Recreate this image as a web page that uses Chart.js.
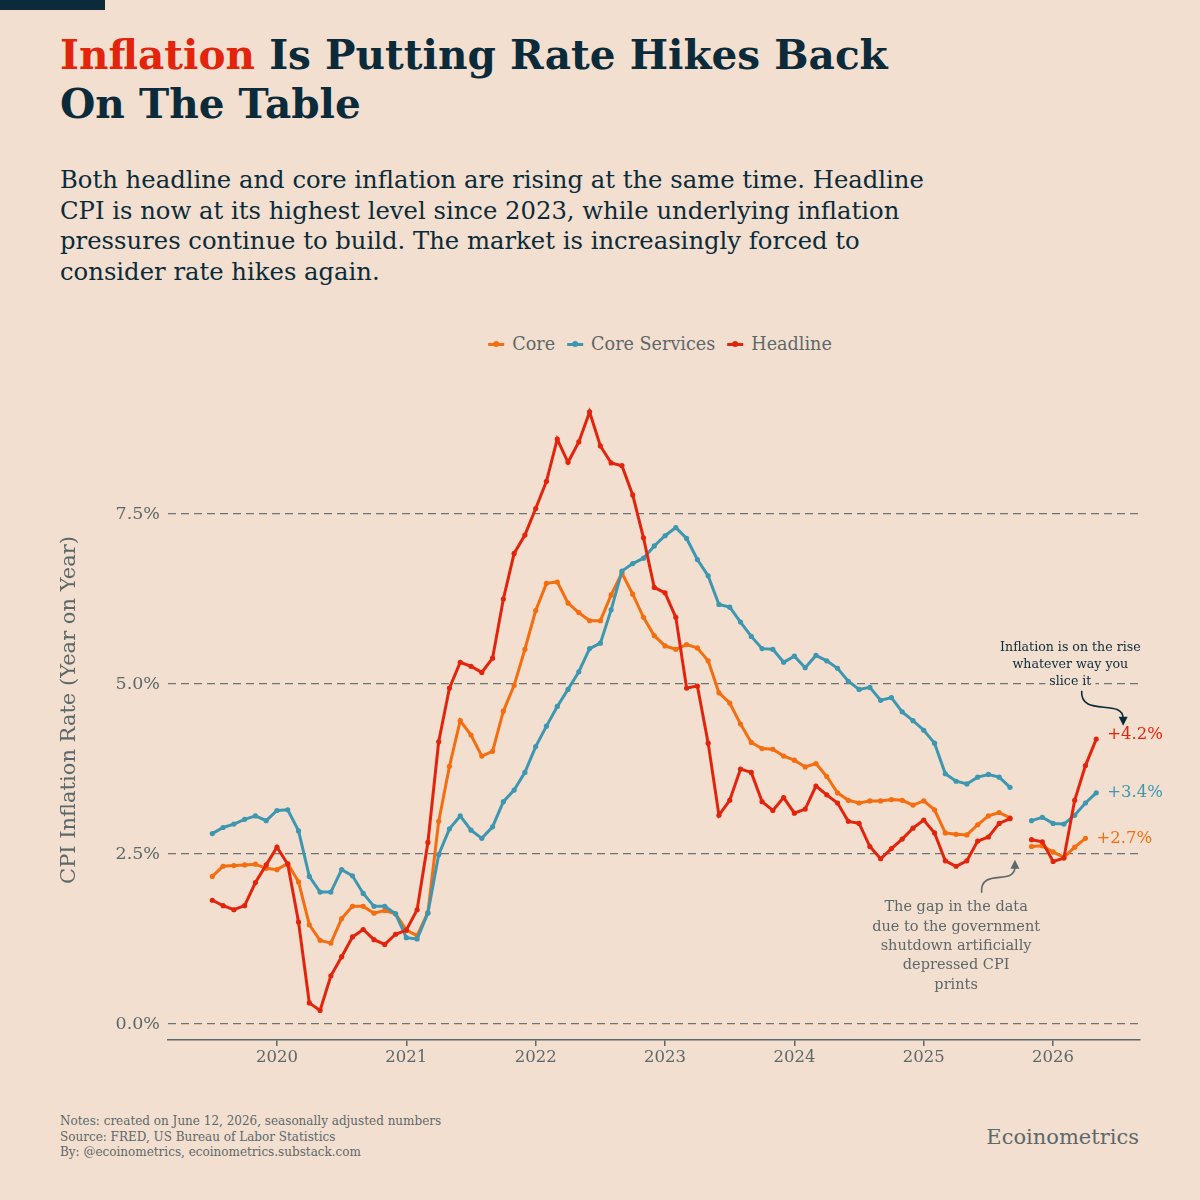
<!DOCTYPE html>
<html lang="en">
<head>
<meta charset="utf-8">
<title>Inflation Is Putting Rate Hikes Back On The Table</title>
<script src="https://cdn.jsdelivr.net/npm/chart.js@4.4.1/dist/chart.umd.min.js"></script>
<style>
  body { margin: 0; background: #f2dfcf; }
  #page { position: relative; width: 1200px; height: 1200px; overflow: hidden; background: #f2dfcf; font-family: "DejaVu Serif", serif; }
  .bar { position: absolute; left: 0; top: 0; width: 105px; height: 10px; background: #0c2b3a; }
  h1 { position: absolute; left: 60px; top: 31px; margin: 0; font-size: 40.6px; line-height: 49px; font-weight: bold; color: #0c2b3a; white-space: nowrap; }
  h1 span { color: #e3240c; }
  .sub { position: absolute; left: 60px; top: 165px; margin: 0; font-size: 24.3px; line-height: 30.6px; color: #0c2b3a; white-space: nowrap; }
  .legend { position: absolute; left: 660px; top: 334px; transform: translateX(-50%); display: flex; gap: 12px; font-size: 17.6px; color: #5d686a; white-space: nowrap; }
  .legend div { display: flex; align-items: center; }
  .legend i { position: relative; display: inline-block; width: 16px; height: 3px; margin-right: 8px; }
  .legend i::after { content: ""; position: absolute; left: 5px; top: -1.5px; width: 6px; height: 6px; border-radius: 50%; background: inherit; }
  .foot { position: absolute; left: 60px; top: 1114px; font-size: 12px; line-height: 15.5px; color: #5d686a; white-space: nowrap; }
  .brand { position: absolute; right: 61px; top: 1124px; font-size: 21px; line-height: 26px; color: #5d686a; }
  canvas { position: absolute; left: 0; top: 360px; }
</style>
</head>
<body>
<div id="page">
  <div class="bar"></div>
  <h1><span>Inflation</span> Is Putting Rate Hikes Back<br>On The Table</h1>
  <p class="sub">Both headline and core inflation are rising at the same time. Headline<br>CPI is now at its highest level since 2023, while underlying inflation<br>pressures continue to build. The market is increasingly forced to<br>consider rate hikes again.</p>
  <div class="legend">
    <div><i style="background:#f46d0f"></i>Core</div>
    <div><i style="background:#3d97b0"></i>Core Services</div>
    <div><i style="background:#e3240c"></i>Headline</div>
  </div>
  <canvas id="myChart" width="1200" height="740"></canvas>
  <div class="foot">Notes: created on June 12, 2026, seasonally adjusted numbers<br>Source: FRED, US Bureau of Labor Statistics<br>By: @ecoinometrics, ecoinometrics.substack.com</div>
  <div class="brand">Ecoinometrics</div>
</div>
<script>
// monthly, Jul 2019 .. May 2026 (Oct 2025 missing: shutdown)
let months=['2019-07','2019-08','2019-09','2019-10','2019-11','2019-12',
  '2020-01','2020-02','2020-03','2020-04','2020-05','2020-06','2020-07','2020-08','2020-09','2020-10','2020-11','2020-12',
  '2021-01','2021-02','2021-03','2021-04','2021-05','2021-06','2021-07','2021-08','2021-09','2021-10','2021-11','2021-12',
  '2022-01','2022-02','2022-03','2022-04','2022-05','2022-06','2022-07','2022-08','2022-09','2022-10','2022-11','2022-12',
  '2023-01','2023-02','2023-03','2023-04','2023-05','2023-06','2023-07','2023-08','2023-09','2023-10','2023-11','2023-12',
  '2024-01','2024-02','2024-03','2024-04','2024-05','2024-06','2024-07','2024-08','2024-09','2024-10','2024-11','2024-12',
  '2025-01','2025-02','2025-03','2025-04','2025-05','2025-06','2025-07','2025-08','2025-09','2025-10','2025-11','2025-12',
  '2026-01','2026-02','2026-03','2026-04','2026-05'];

let core=[2.17,2.32,2.33,2.34,2.35,2.29,
  2.27,2.36,2.09,1.46,1.23,1.19,1.55,1.73,1.73,1.63,1.67,1.62,
  1.38,1.30,1.64,2.98,3.79,4.46,4.25,3.94,4.01,4.60,4.98,5.51,
  6.08,6.48,6.50,6.19,6.05,5.93,5.93,6.31,6.63,6.32,5.98,5.71,
  5.56,5.51,5.58,5.53,5.34,4.87,4.72,4.41,4.14,4.05,4.04,3.94,
  3.88,3.78,3.83,3.64,3.40,3.29,3.25,3.28,3.28,3.30,3.29,3.22,
  3.28,3.15,2.81,2.79,2.78,2.93,3.06,3.11,3.03,null,2.61,2.62,
  2.53,2.45,2.60,2.73,null];

let coreServices=[2.80,2.89,2.94,3.01,3.06,2.99,
  3.14,3.15,2.84,2.17,1.94,1.94,2.27,2.18,1.92,1.73,1.73,1.62,
  1.27,1.25,1.63,2.49,2.87,3.06,2.85,2.73,2.90,3.27,3.44,3.70,
  4.08,4.38,4.67,4.92,5.18,5.52,5.60,6.09,6.66,6.77,6.85,7.03,
  7.18,7.30,7.14,6.83,6.59,6.17,6.13,5.91,5.70,5.52,5.51,5.32,
  5.41,5.24,5.42,5.34,5.23,5.04,4.92,4.95,4.76,4.80,4.59,4.46,
  4.32,4.13,3.68,3.57,3.53,3.63,3.67,3.63,3.48,null,2.99,3.04,
  2.95,2.94,3.07,3.25,3.40];

let headline=[1.82,1.74,1.68,1.74,2.08,2.34,
  2.60,2.35,1.50,0.31,0.20,0.71,0.99,1.28,1.39,1.24,1.17,1.32,
  1.38,1.68,2.67,4.15,4.94,5.32,5.26,5.17,5.38,6.25,6.92,7.19,
  7.58,7.98,8.60,8.26,8.56,9.00,8.50,8.25,8.21,7.78,7.15,6.42,
  6.34,5.98,4.94,4.97,4.13,3.07,3.29,3.75,3.70,3.27,3.14,3.33,
  3.10,3.16,3.50,3.37,3.25,2.98,2.95,2.61,2.43,2.58,2.72,2.88,
  3.00,2.81,2.40,2.32,2.40,2.69,2.75,2.95,3.02,null,2.71,2.68,
  2.39,2.44,3.29,3.80,4.19];

let seriesNames=['Core','Core Services','Headline'];
let seriesColors=['#f46d0f','#3d97b0','#e3240c'];
let yTicks=[0,2.5,5,7.5];
let yearTicks=[2020,2021,2022,2023,2024,2025,2026];

let grey='#5d686a';
let navy='#0c2b3a';
let bg='#f2dfcf';
let serif='"DejaVu Serif", serif';

function monthIndex(label){
    let parts=label.split('-');
    return (parseInt(parts[0])-2019)*12+parseInt(parts[1])-7;
}

function toPoints(values){
    return values.map(function(v,i){ return {x: monthIndex(months[i]), y: v}; });
}

// the two notes, anchored in data units (month index, percent)
let riseNote={x:79.6, y:5.53, lines:['Inflation is on the rise','whatever way you','slice it'], color:navy, size:12.6,
    arrowFrom:[80.65,4.90], arrowTo:[84.5,4.40], bend:'down'};
let gapNote={x:69.0, y:1.71, lines:['The gap in the data','due to the government','shutdown artificially','depressed CPI','prints'], color:grey, size:14.5,
    arrowFrom:[71.37,1.93], arrowTo:[74.46,2.40], bend:'up'};

function drawArrow(ctx,x,y,note){
    let x0=x.getPixelForValue(note.arrowFrom[0]), y0=y.getPixelForValue(note.arrowFrom[1]);
    let x1=x.getPixelForValue(note.arrowTo[0]), y1=y.getPixelForValue(note.arrowTo[1]);
    let dir=note.bend==='down'?1:-1;
    ctx.save();
    ctx.strokeStyle=note.color;
    ctx.fillStyle=note.color;
    ctx.lineWidth=1.6;
    ctx.beginPath();
    ctx.moveTo(x0,y0);
    ctx.bezierCurveTo(x0-2,y0+dir*Math.abs(y1-y0)*0.8, x1,y0+dir*Math.abs(y1-y0)*0.2, x1,y1-dir*6);
    ctx.stroke();
    ctx.beginPath();
    ctx.moveTo(x1-4.5,y1-dir*8);
    ctx.lineTo(x1+4.5,y1-dir*8);
    ctx.lineTo(x1,y1+dir*1);
    ctx.closePath();
    ctx.fill();
    ctx.restore();
}

function drawNote(ctx,x,y,note){
    let cx=x.getPixelForValue(note.x);
    let cy=y.getPixelForValue(note.y);
    let step=note.size*1.33;
    ctx.save();
    ctx.font=note.size+'px '+serif;
    ctx.textAlign='center';
    ctx.textBaseline='middle';
    note.lines.forEach(function(line,k){
        let w=ctx.measureText(line).width;
        ctx.fillStyle=bg;
        ctx.fillRect(cx-w/2-4,cy+k*step-step/2,w+8,step);
        ctx.fillStyle=note.color;
        ctx.fillText(line,cx,cy+k*step);
    });
    ctx.restore();
    drawArrow(ctx,x,y,note);
}

let notesPlugin={
    id:'notes',
    afterDatasetsDraw(chart){
        let ctx=chart.ctx;
        let x=chart.scales.x, y=chart.scales.y;
        // end labels next to the last point of each series
        chart.data.datasets.forEach(function(ds,d){
            let meta=chart.getDatasetMeta(d);
            let last=-1;
            ds.data.forEach(function(p,i){ if(p.y!==null) last=i; });
            let pt=meta.data[last];
            let v=ds.data[last].y;
            ctx.save();
            ctx.font='16.5px '+serif;
            ctx.fillStyle=ds.borderColor;
            ctx.textAlign='left';
            ctx.textBaseline='middle';
            ctx.fillText('+'+v.toFixed(1)+'%',pt.x+11,pt.y-(d===2?4:0));
            ctx.restore();
        });
        drawNote(ctx,x,y,riseNote);
        drawNote(ctx,x,y,gapNote);
    }
};

let datasets=[core,coreServices,headline].map(function(values,k){
    return {
        label: seriesNames[k],
        data: toPoints(values),
        borderColor: seriesColors[k],
        backgroundColor: seriesColors[k],
        pointBackgroundColor: seriesColors[k],
        borderWidth: 3,
        pointRadius: 2.6,
        pointBorderWidth: 0,
        tension: 0,
        spanGaps: false,
        order: 2-k
    };
});

let ctx=document.getElementById('myChart').getContext('2d');
let chart=new Chart(ctx,{
    type:'line',
    data:{datasets:datasets},
    options:{
        responsive:false,
        animation:false,
        layout:{padding:{top:20,right:60,bottom:20,left:0}},
        plugins:{legend:{display:false},tooltip:{enabled:false}},
        scales:{
            x:{
                type:'linear',
                min:-4.11,
                max:86.06,
                afterBuildTicks(scale){
                    scale.ticks=yearTicks.map(function(yr){ return {value: monthIndex(yr+'-01')}; });
                },
                afterFit(scale){ scale.height=40; },
                ticks:{
                    autoSkip:false,
                    maxRotation:0,
                    padding:2,
                    color:grey,
                    font:{family:serif,size:16.5},
                    callback:function(value){ return String(2019+Math.round((value+6)/12)); }
                },
                grid:{drawOnChartArea:false,drawTicks:true,tickLength:6,color:grey,lineWidth:1.5},
                border:{display:true,color:grey,width:1.5}
            },
            y:{
                min:-0.235,
                max:9.47,
                afterBuildTicks(scale){
                    scale.ticks=yTicks.map(function(v){ return {value:v}; });
                },
                afterFit(scale){ scale.width=168; },
                ticks:{
                    padding:8,
                    color:grey,
                    font:{family:serif,size:17.5},
                    callback:function(value){ return value.toFixed(1)+'%'; }
                },
                grid:{drawTicks:false,color:'#6c7476',lineWidth:1.3},
                border:{display:false,dash:[8,5]},
                title:{
                    display:true,
                    text:'CPI Inflation Rate (Year on Year)',
                    color:grey,
                    font:{family:serif,size:21},
                    padding:{top:57,bottom:0}
                }
            }
        }
    },
    plugins:[notesPlugin]
});
</script>
</body>
</html>
